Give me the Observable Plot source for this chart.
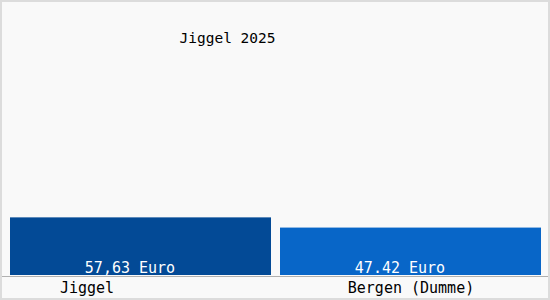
<!DOCTYPE html>
<html>
<head>
<meta charset="utf-8">
<script src="https://cdn.jsdelivr.net/npm/d3@7"></script>
<script src="https://cdn.jsdelivr.net/npm/@observablehq/plot@0.6"></script>
<style>
  html, body { margin: 0; padding: 0; background: #fff; }
  #wrap { position: relative; width: 550px; height: 300px; }
  #border { position: absolute; left: 0; top: 0; width: 550px; height: 300px; box-sizing: border-box; border: 2px solid #dcdcdc; pointer-events: none; }
</style>
</head>
<body>
<div id="wrap"><div id="border"></div></div>
<script>
const categories = ["Jiggel", "Bergen (Dumme)"];
const values = [57.63, 47.42];
const valueLabels = ["57,63 Euro", "47.42 Euro"];
const titleText = "Jiggel 2025";
const colors = ["#034a96", "#0866c8"];

const data = categories.map((c, i) => ({category: c, value: values[i], label: valueLabels[i], color: colors[i]}));

const font = "'DejaVu Sans Mono', monospace";

const chart = Plot.plot({
  width: 550,
  height: 300,
  marginTop: 0,
  marginBottom: 25,
  marginLeft: 0,
  marginRight: 0,
  style: {background: "#f9f9f9", fontFamily: font, overflow: "visible"},
  x: {domain: categories, range: [10, 541], paddingInner: 0.034, paddingOuter: 0, axis: null},
  y: {domain: [0, 275], axis: null},
  marks: [
    Plot.barY(data, {x: "category", y: "value", fill: "color"}),
    Plot.ruleY([0], {stroke: "#b0b0b0", strokeWidth: 1, dy: 1}),
    Plot.text(data, {x: "category", y: 0, text: "label", fill: "white", fontSize: 15, dy: -7, dx: -11, fontFamily: font, fontWeight: 500, lineAnchor: "middle"}),
    Plot.text(data.filter((d, i) => i === 0), {x: "category", y: 0, text: "category", fill: "black", fontSize: 15, dy: 13, dx: -54, fontFamily: font, fontWeight: 500, lineAnchor: "middle"}),
    Plot.text(data.filter((d, i) => i === 1), {x: "category", y: 0, text: "category", fill: "black", fontSize: 15, dy: 13, dx: 0, fontFamily: font, fontWeight: 500, lineAnchor: "middle"}),
    Plot.text([titleText], {frameAnchor: "top-left", lineAnchor: "middle", text: d => d, textAnchor: "middle", dx: 227, dy: 38, fontSize: 14.5, fill: "black", fontFamily: font, fontWeight: 500})
  ]
});
document.getElementById("wrap").prepend(chart);
</script>
</body>
</html>
